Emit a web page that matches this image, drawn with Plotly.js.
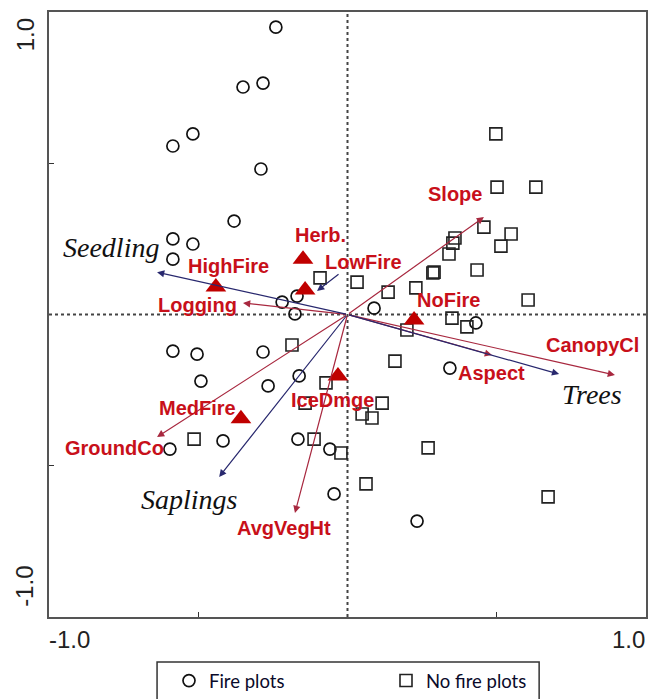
<!DOCTYPE html>
<html>
<head>
<meta charset="utf-8">
<script src="https://cdn.plot.ly/plotly-3.0.1.min.js"></script>
<style>html,body{margin:0;padding:0;background:#fff;}#chart{width:648px;height:699px;}</style>
</head>
<body>
<div id="chart"></div>
<script>
// Site scores: fire plots (circles)
const fireX = [-0.240,-0.350,-0.283,-0.518,-0.585,-0.290,-0.380,-0.585,-0.518,-0.585,-0.219,-0.169,-0.176,0.089,0.430,-0.585,-0.504,-0.283,-0.491,-0.266,-0.162,-0.595,-0.417,-0.166,-0.059,-0.045,0.233,0.343];
const fireY = [0.950,0.752,0.765,0.597,0.557,0.481,0.309,0.250,0.233,0.183,0.041,0.061,0.002,0.021,-0.028,-0.121,-0.131,-0.124,-0.220,-0.236,-0.203,-0.445,-0.418,-0.412,-0.445,-0.593,-0.683,-0.177];
// Site scores: no fire plots (squares)
const noFireX = [0.497,0.501,0.631,0.457,0.360,0.353,0.340,0.548,0.514,0.286,0.290,0.434,-0.092,0.032,0.136,0.229,0.605,0.350,0.400,0.199,-0.186,0.159,-0.072,-0.142,0.116,0.049,0.082,-0.112,-0.022,0.270,0.062,0.672,-0.514];
const noFireY = [0.597,0.421,0.421,0.289,0.253,0.236,0.200,0.266,0.226,0.137,0.140,0.147,0.121,0.107,0.074,0.088,0.048,-0.012,-0.041,-0.051,-0.101,-0.154,-0.226,-0.293,-0.293,-0.329,-0.342,-0.412,-0.458,-0.441,-0.560,-0.603,-0.412];
// Nominal variable centroids (triangles)
const centroidNames = ["HighFire","Herb.","LowFire","NoFire","IceDmge","MedFire"];
const centroidX = [-0.441,-0.149,-0.142,0.223,-0.032,-0.357];
const centroidY = [0.091,0.183,0.081,-0.018,-0.203,-0.345];
const centroidLabelX = [-0.400,-0.092,0.052,0.337,-0.049,-0.504];
const centroidLabelY = [0.160,0.263,0.174,0.048,-0.283,-0.309];
// Environmental variable arrows (red)
const envNames = ["Slope","Logging","CanopyCl","Aspect","GroundCo","AvgVegHt"];
const envX = [0.457,-0.350,0.896,0.484,-0.638,-0.176];
const envY = [0.322,0.038,-0.200,-0.134,-0.405,-0.656];
const envLabelX = [0.360,-0.501,0.822,0.484,-0.779,-0.213];
const envLabelY = [0.398,0.031,-0.101,-0.193,-0.441,-0.706];
// Response arrows (blue)
const speciesNames = ["Seedling","Trees","Saplings"];
const speciesX = [-0.638,0.709,-0.430];
const speciesY = [0.140,-0.197,-0.537];
const speciesLabelX = [-0.792,0.819,-0.528];
const speciesLabelY = [0.220,-0.263,-0.613];
// short unlabeled blue arrow
const extraArrowFrom = [-0.025,0.137];
const extraArrowTo = [-0.102,0.078];
// axis tick labels
const axisTickLabels = ["-1.0","1.0"];

const red = '#c8101a', redArrow = '#a8283f', blueArrow = '#28286e';

const traces = [
  {x: fireX, y: fireY, type:'scatter', mode:'markers', name:'Fire plots',
   marker:{symbol:'circle-open', size:12, color:'#111', line:{width:1.7, color:'#111'}}},
  {x: noFireX, y: noFireY, type:'scatter', mode:'markers', name:'No fire plots',
   marker:{symbol:'square-open', size:12, color:'#222', line:{width:1.6, color:'#222'}}},
  {x: centroidX, y: centroidY, type:'scatter', mode:'markers', showlegend:false,
   marker:{symbol:'triangle-up', size:18, color:'#c00000', line:{width:0}}}
];

const annotations = [];
function arrow(x0,y0,x1,y1,color){
  annotations.push({x:x1, y:y1, ax:x0, ay:y0, xref:'x', yref:'y', axref:'x', ayref:'y',
    showarrow:true, arrowhead:2, arrowsize:1.2, arrowwidth:1.2, arrowcolor:color, text:''});
}
envNames.forEach((n,i)=>arrow(0,0,envX[i],envY[i],redArrow));
speciesNames.forEach((n,i)=>arrow(0,0,speciesX[i],speciesY[i],blueArrow));
arrow(extraArrowFrom[0],extraArrowFrom[1],extraArrowTo[0],extraArrowTo[1],blueArrow);

function label(t,x,y,font){
  annotations.push({x:x, y:y, xref:'x', yref:'y', text:t, showarrow:false, xanchor:'center', yanchor:'middle', font:font});
}
const redFont = {family:'"Liberation Sans", Arial, sans-serif', size:20, color:red, weight:'bold'};
const italFont = {family:'"Liberation Serif", "Times New Roman", serif', size:28, color:'#111', style:'italic'};
envNames.forEach((n,i)=>label('<b>'+n+'</b>',envLabelX[i],envLabelY[i],redFont));
centroidNames.forEach((n,i)=>label('<b>'+n+'</b>',centroidLabelX[i],centroidLabelY[i],redFont));
speciesNames.forEach((n,i)=>label('<i>'+n+'</i>',speciesLabelX[i],speciesLabelY[i],italFont));

const tickFont = {family:'"Liberation Sans", Arial, sans-serif', size:24, color:'#222'};
annotations.push({xref:'paper', yref:'paper', x:0.035, y:-0.038, text:axisTickLabels[0], showarrow:false, xanchor:'center', yanchor:'middle', font:tickFont});
annotations.push({xref:'paper', yref:'paper', x:0.970, y:-0.038, text:axisTickLabels[1], showarrow:false, xanchor:'center', yanchor:'middle', font:tickFont});
annotations.push({xref:'paper', yref:'paper', x:-0.038, y:0.962, text:axisTickLabels[1], showarrow:false, textangle:-90, xanchor:'center', yanchor:'middle', font:tickFont});
annotations.push({xref:'paper', yref:'paper', x:-0.040, y:0.050, text:axisTickLabels[0], showarrow:false, textangle:-90, xanchor:'center', yanchor:'middle', font:tickFont});

const layout = {
  width:648, height:699,
  margin:{l:49, r:2, t:12, b:82, autoexpand:false},
  paper_bgcolor:'#fff', plot_bgcolor:'#fff',
  showlegend:true,
  legend:{orientation:'h', x:0.201, y:-0.0744, xanchor:'left', yanchor:'top',
    borderwidth:0, bgcolor:'rgba(0,0,0,0)',
    font:{family:'Lato, "Open Sans", sans-serif', size:18.5, color:'#0a0a2a'},
    entrywidth:172, entrywidthmode:'pixels', itemwidth:30},
  xaxis:{range:[-1,1], showgrid:false, zeroline:false, showline:true, mirror:true, linecolor:'#555', linewidth:2,
    tickvals:[-0.5,0.5], ticks:'inside', ticklen:5, tickcolor:'#333', showticklabels:false, fixedrange:true},
  yaxis:{range:[-1,1], showgrid:false, zeroline:false, showline:true, mirror:true, linecolor:'#555', linewidth:2,
    tickvals:[-0.5,0.5], ticks:'inside', ticklen:5, tickcolor:'#333', showticklabels:false, fixedrange:true},
  shapes:[
    {type:'line', xref:'x', yref:'paper', x0:0, x1:0, y0:0, y1:1, line:{color:'#444', width:2, dash:'dot'}, layer:'below'},
    {type:'line', xref:'paper', yref:'y', x0:0, x1:1, y0:0, y1:0, line:{color:'#444', width:2, dash:'dot'}, layer:'below'},
    {type:'rect', xref:'paper', yref:'paper', x0:0.181, x1:0.821, y0:-0.0744, y1:-0.2, line:{color:'#333', width:1.5}, fillcolor:'rgba(0,0,0,0)'}
  ],
  annotations: annotations,
  hovermode:false
};
Plotly.newPlot('chart', traces, layout, {staticPlot:true, displayModeBar:false});
</script>
</body>
</html>
